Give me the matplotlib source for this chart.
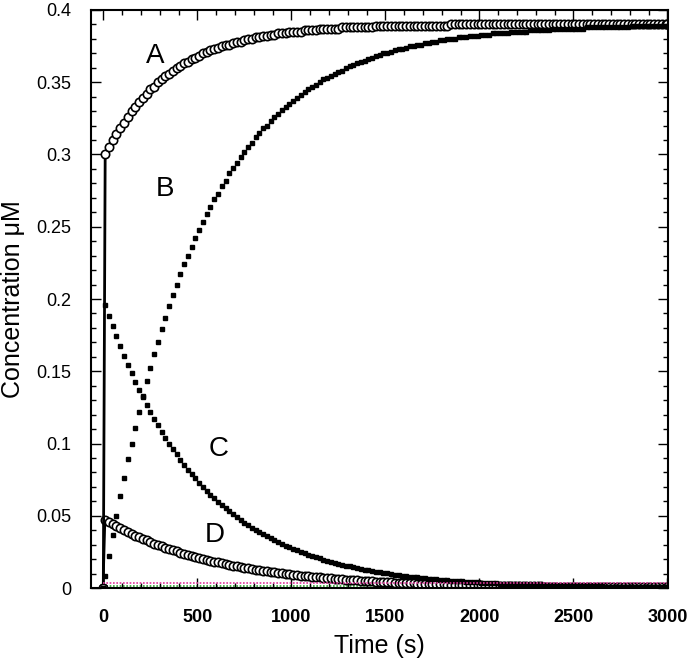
import numpy as np
import matplotlib
matplotlib.use("Agg")
import matplotlib.pyplot as plt
from matplotlib.ticker import MultipleLocator

plt.rcParams['font.family'] = ['Liberation Sans', 'DejaVu Sans']

# sample times (s): start point, then every 20 s from 10 s, then the end point
time_s = np.concatenate(([0.0], np.arange(10, 3000, 20), [3000.0]))

# curve A (open circles)
conc_a = [0.0,
    0.300, 0.305, 0.310, 0.314, 0.318, 0.322, 0.326, 0.330, 0.333, 0.336,
    0.339, 0.342, 0.345, 0.347, 0.350, 0.352, 0.354, 0.356, 0.358, 0.360,
    0.361, 0.363, 0.364, 0.366, 0.367, 0.368, 0.370, 0.371, 0.372, 0.373,
    0.374, 0.375, 0.376, 0.376, 0.377, 0.378, 0.378, 0.379, 0.380, 0.380,
    0.381, 0.381, 0.382, 0.382, 0.383, 0.383, 0.384, 0.384, 0.384, 0.385,
    0.385, 0.385, 0.385, 0.386, 0.386, 0.386, 0.386, 0.387, 0.387, 0.387,
    0.387, 0.387, 0.387, 0.388, 0.388, 0.388, 0.388, 0.388, 0.388, 0.388,
    0.388, 0.388, 0.389, 0.389, 0.389, 0.389, 0.389, 0.389, 0.389, 0.389,
    0.389, 0.389, 0.389, 0.389, 0.389, 0.389, 0.389, 0.389, 0.389, 0.389,
    0.389, 0.389, 0.390, 0.390, 0.390, 0.390, 0.390, 0.390, 0.390, 0.390,
    0.390, 0.390, 0.390, 0.390, 0.390, 0.390, 0.390, 0.390, 0.390, 0.390,
    0.390, 0.390, 0.390, 0.390, 0.390, 0.390, 0.390, 0.390, 0.390, 0.390,
    0.390, 0.390, 0.390, 0.390, 0.390, 0.390, 0.390, 0.390, 0.390, 0.390,
    0.390, 0.390, 0.390, 0.390, 0.390, 0.390, 0.390, 0.390, 0.390, 0.390,
    0.390, 0.390, 0.390, 0.390, 0.390, 0.390, 0.390, 0.390, 0.390, 0.390,
    0.390]

# curve B (filled squares)
conc_b = [0.0,
    0.008, 0.022, 0.037, 0.050, 0.064, 0.076, 0.089, 0.100, 0.111, 0.122,
    0.133, 0.143, 0.152, 0.162, 0.170, 0.179, 0.187, 0.195, 0.203, 0.210,
    0.217, 0.224, 0.230, 0.236, 0.242, 0.248, 0.253, 0.259, 0.264, 0.269,
    0.273, 0.278, 0.282, 0.287, 0.291, 0.294, 0.298, 0.302, 0.305, 0.308,
    0.312, 0.315, 0.318, 0.320, 0.323, 0.326, 0.328, 0.331, 0.333, 0.335,
    0.337, 0.339, 0.341, 0.343, 0.345, 0.347, 0.348, 0.350, 0.352, 0.353,
    0.354, 0.356, 0.357, 0.358, 0.360, 0.361, 0.362, 0.363, 0.364, 0.365,
    0.366, 0.367, 0.368, 0.369, 0.370, 0.370, 0.371, 0.372, 0.373, 0.373,
    0.374, 0.375, 0.375, 0.376, 0.376, 0.377, 0.377, 0.378, 0.378, 0.379,
    0.379, 0.380, 0.380, 0.380, 0.381, 0.381, 0.381, 0.382, 0.382, 0.382,
    0.383, 0.383, 0.383, 0.384, 0.384, 0.384, 0.384, 0.384, 0.385, 0.385,
    0.385, 0.385, 0.385, 0.386, 0.386, 0.386, 0.386, 0.386, 0.386, 0.387,
    0.387, 0.387, 0.387, 0.387, 0.387, 0.387, 0.387, 0.387, 0.388, 0.388,
    0.388, 0.388, 0.388, 0.388, 0.388, 0.388, 0.388, 0.388, 0.388, 0.388,
    0.389, 0.389, 0.389, 0.389, 0.389, 0.389, 0.389, 0.389, 0.389, 0.389,
    0.389]

# curve C (filled squares)
conc_c = [0.0,
    0.1961, 0.1885, 0.1811, 0.1741, 0.1674, 0.1609, 0.1546, 0.1486, 0.1428, 0.1373,
    0.1320, 0.1268, 0.1219, 0.1172, 0.1126, 0.1083, 0.1040, 0.1000, 0.0961, 0.0924,
    0.0888, 0.0854, 0.0820, 0.0789, 0.0758, 0.0729, 0.0700, 0.0673, 0.0647, 0.0622,
    0.0598, 0.0574, 0.0552, 0.0531, 0.0510, 0.0490, 0.0471, 0.0453, 0.0435, 0.0418,
    0.0402, 0.0387, 0.0372, 0.0357, 0.0343, 0.0330, 0.0317, 0.0305, 0.0293, 0.0282,
    0.0271, 0.0260, 0.0250, 0.0240, 0.0231, 0.0222, 0.0213, 0.0205, 0.0197, 0.0190,
    0.0182, 0.0175, 0.0168, 0.0162, 0.0155, 0.0149, 0.0144, 0.0138, 0.0133, 0.0128,
    0.0123, 0.0118, 0.0113, 0.0109, 0.0105, 0.0101, 0.0097, 0.0093, 0.0089, 0.0086,
    0.0083, 0.0079, 0.0076, 0.0073, 0.0070, 0.0068, 0.0065, 0.0063, 0.0060, 0.0058,
    0.0056, 0.0053, 0.0051, 0.0049, 0.0047, 0.0046, 0.0044, 0.0042, 0.0040, 0.0039,
    0.0037, 0.0036, 0.0035, 0.0033, 0.0032, 0.0031, 0.0029, 0.0028, 0.0027, 0.0026,
    0.0025, 0.0024, 0.0023, 0.0022, 0.0021, 0.0021, 0.0020, 0.0019, 0.0018, 0.0018,
    0.0017, 0.0016, 0.0016, 0.0015, 0.0014, 0.0014, 0.0013, 0.0013, 0.0012, 0.0012,
    0.0011, 0.0011, 0.0011, 0.0010, 0.0010, 0.0009, 0.0009, 0.0009, 0.0008, 0.0008,
    0.0008, 0.0007, 0.0007, 0.0007, 0.0007, 0.0006, 0.0006, 0.0006, 0.0006, 0.0005,
    0.0005]

# curve D (open circles)
conc_d = [0.0,
    0.0472, 0.0457, 0.0442, 0.0428, 0.0414, 0.0401, 0.0388, 0.0375, 0.0363, 0.0352,
    0.0340, 0.0329, 0.0319, 0.0308, 0.0298, 0.0289, 0.0279, 0.0270, 0.0262, 0.0253,
    0.0245, 0.0237, 0.0230, 0.0222, 0.0215, 0.0208, 0.0201, 0.0195, 0.0189, 0.0183,
    0.0177, 0.0171, 0.0165, 0.0160, 0.0155, 0.0150, 0.0145, 0.0140, 0.0136, 0.0131,
    0.0127, 0.0123, 0.0119, 0.0115, 0.0112, 0.0108, 0.0105, 0.0101, 0.0098, 0.0095,
    0.0092, 0.0089, 0.0086, 0.0083, 0.0080, 0.0078, 0.0075, 0.0073, 0.0070, 0.0068,
    0.0066, 0.0064, 0.0062, 0.0060, 0.0058, 0.0056, 0.0054, 0.0053, 0.0051, 0.0049,
    0.0048, 0.0046, 0.0045, 0.0043, 0.0042, 0.0040, 0.0039, 0.0038, 0.0037, 0.0035,
    0.0034, 0.0033, 0.0032, 0.0031, 0.0030, 0.0029, 0.0028, 0.0027, 0.0026, 0.0026,
    0.0025, 0.0024, 0.0023, 0.0022, 0.0022, 0.0021, 0.0020, 0.0020, 0.0019, 0.0018,
    0.0018, 0.0017, 0.0017, 0.0016, 0.0016, 0.0015, 0.0015, 0.0014, 0.0014, 0.0013,
    0.0013, 0.0012, 0.0012, 0.0012, 0.0011, 0.0011, 0.0011, 0.0010, 0.0010, 0.0010,
    0.0009, 0.0009, 0.0009, 0.0008, 0.0008, 0.0008, 0.0008, 0.0007, 0.0007, 0.0007,
    0.0007, 0.0006, 0.0006, 0.0006, 0.0006, 0.0006, 0.0005, 0.0005, 0.0005, 0.0005,
    0.0005, 0.0005, 0.0004, 0.0004, 0.0004, 0.0004, 0.0004, 0.0004, 0.0004, 0.0004,
    0.0004]

# two minor species that stay near zero (dotted)
minor_t = [0, 3000]
conc_pink = [0.0032, 0.0032]
conc_green = [0.0012, 0.0012]

# curve letters: (label, time, conc)
letters = [("A", 275, 0.368), ("B", 329, 0.276), ("C", 613, 0.096), ("D", 595, 0.037)]

fig = plt.figure(figsize=(6.92, 6.66), dpi=100)
ax = fig.add_axes([0.1308, 0.1171, 0.8345, 0.8679])

# open circles first, filled squares drawn over them
ax.plot(time_s, conc_d, '-', color='k', lw=1.5, marker='o', ms=6,
        mfc='white', mec='k', mew=1.2, zorder=2)
ax.plot(time_s, conc_a, '-', color='k', lw=2.0, marker='o', ms=6,
        mfc='white', mec='k', mew=1.2, zorder=2)
ax.plot(time_s, conc_c, ls='none', marker='s', ms=3.4, color='k', zorder=3)
ax.plot(time_s, conc_b, ls='none', marker='s', ms=3.4, color='k', zorder=3)

ax.plot(minor_t, conc_green, ls=(0, (1, 1)), color='#2ca02c', lw=1.2, zorder=1)
ax.plot(minor_t, conc_pink, ls=(0, (1, 1)), color='#e0359b', lw=1.2, zorder=5)

for name, tx, cy in letters:
    ax.text(tx, cy, name, fontsize=20, ha='center', va='center')

ax.set_xlim(-68, 3003)
ax.set_ylim(0, 0.4)
ax.xaxis.set_major_locator(MultipleLocator(500))
ax.xaxis.set_minor_locator(MultipleLocator(100))
ax.yaxis.set_minor_locator(MultipleLocator(0.01))
ax.set_yticks(np.arange(0, 0.401, 0.05))
ax.set_yticklabels(["0", "0.05", "0.1", "0.15", "0.2", "0.25", "0.3", "0.35", "0.4"])

ax.tick_params(which='both', direction='in', top=True, right=True, width=1.0)
ax.tick_params(which='major', length=7)
ax.tick_params(which='minor', length=3.5)
ax.tick_params(axis='x', which='major', pad=15, labelsize=13)
ax.tick_params(axis='y', which='major', pad=14, labelsize=13)
for lab in ax.get_xticklabels():
    lab.set_fontweight('bold')
for sp in ax.spines.values():
    sp.set_linewidth(1.5)

ax.set_xlabel("Time (s)", fontsize=18, labelpad=6)
ax.set_ylabel("Concentration μM", fontsize=18, labelpad=8)

fig.savefig("out.png", dpi=100)
